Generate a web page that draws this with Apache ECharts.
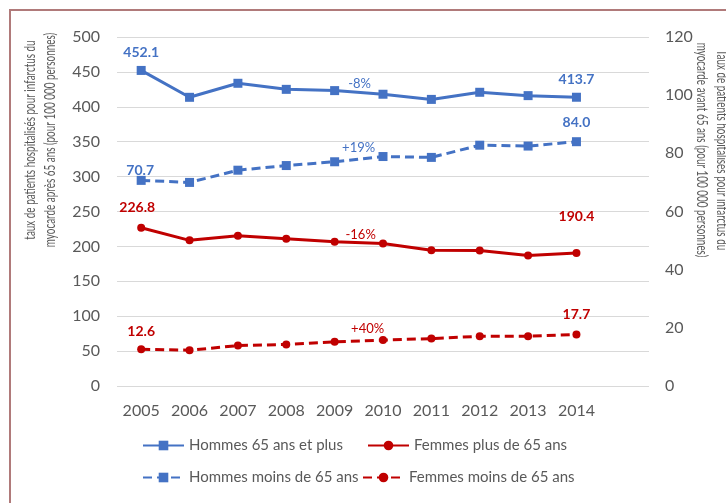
<!DOCTYPE html>
<html>
<head>
<meta charset="utf-8">
<script src="https://cdn.jsdelivr.net/npm/echarts@6/dist/echarts.min.js"></script>
<style>
  html, body { margin: 0; padding: 0; background: #fff; }
  #main { width: 726px; height: 503px; }
</style>
</head>
<body>
<div id="main"></div>
<script>
	// données
	var years = ['2005', '2006', '2007', '2008', '2009', '2010', '2011', '2012', '2013', '2014'];
	var hommesPlus65 = [452.1, 413.6, 433.7, 425.0, 423.2, 418.0, 410.6, 420.8, 416.0, 413.7];
	var femmesPlus65 = [226.8, 208.7, 215.3, 211.0, 206.5, 204.2, 194.6, 194.0, 187.0, 190.4];
	var hommesMoins65 = [70.7, 70.0, 74.2, 75.8, 77.1, 78.9, 78.6, 82.8, 82.5, 84.0];
	var femmesMoins65 = [12.6, 12.3, 13.9, 14.3, 15.2, 15.8, 16.3, 17.1, 17.1, 17.7];
	var evolutions = ['-8%', '-16%', '+19%', '+40%'];
	var leftTicks = [0, 500, 50];
	var rightTicks = [0, 120, 20];

	var BLUE = '#4472C4';
	var RED = '#C00000';
	var GREY = '#595959';
	var FONT = 'Lato';

	// étiquettes : première valeur, évolution (posée sur 2009), dernière valeur
	function buildData(values, evo, off) {
		return values.map(function (v, i) {
			var item = { value: v };
			if (i === 0 || i === values.length - 1 || i === 4) {
				var txt = (i === 4) ? evo : v.toFixed(1);
				var o = i === 0 ? off[0] : (i === 4 ? off[1] : off[2]);
				item.label = {
					show: true,
					position: 'inside',
					offset: o,
					formatter: txt,
					fontFamily: FONT,
					fontSize: i === 4 ? 13 : 14,
					fontWeight: i === 4 ? 'normal' : 'bold'
				};
			}
			return item;
		});
	}

	function makeSeries(name, values, axis, color, symbol, size, dashed, evo, off) {
		return {
			name: name,
			type: 'line',
			yAxisIndex: axis,
			data: buildData(values, evo, off),
			symbol: symbol,
			symbolSize: size,
			itemStyle: { color: color },
			lineStyle: { color: color, width: 3, type: dashed ? [9, 5] : 'solid' },
			label: { color: color },
			emphasis: { disabled: true },
			animation: false
		};
	}

	var chart = echarts.init(document.getElementById('main'));

	var names = ['Hommes 65 ans et plus', 'Femmes plus de 65 ans', 'Hommes moins de 65 ans', 'Femmes moins de 65 ans'];
	var legendPos = [[142, 438], [367, 438], [142, 470], [362, 470]];

	chart.setOption({
		backgroundColor: '#fff',
		grid: { left: 117, right: 77, top: 37, bottom: 117 },
		xAxis: {
			type: 'category',
			data: years.concat(['']),
			boundaryGap: true,
			axisLine: { show: false },
			axisTick: { show: false },
			axisLabel: { color: GREY, fontSize: 16, fontFamily: FONT, margin: 17 }
		},
		yAxis: [{
			type: 'value',
			min: leftTicks[0], max: leftTicks[1], interval: leftTicks[2],
			axisLine: { show: false },
			axisTick: { show: false },
			axisLabel: { color: GREY, fontSize: 16, fontFamily: FONT, margin: 17 },
			splitLine: { lineStyle: { color: '#d9d9d9', width: 1 } }
		}, {
			type: 'value',
			min: rightTicks[0], max: rightTicks[1], interval: rightTicks[2],
			axisLine: { show: false },
			axisTick: { show: false },
			axisLabel: { color: GREY, fontSize: 16, fontFamily: FONT, margin: 16 },
			splitLine: { show: false }
		}],
		legend: names.map(function (n, i) {
			return {
				data: [n],
				left: legendPos[i][0],
				top: legendPos[i][1],
				itemWidth: 41,
				itemHeight: 12,
				itemGap: 0,
				padding: 0,
				textStyle: { color: GREY, fontSize: 15, fontFamily: FONT }
			};
		}),
		series: [
			makeSeries(names[0], hommesPlus65, 0, BLUE, 'rect', 9, false, evolutions[0], [[0, -18], [25, -7], [0, -18]]),
			makeSeries(names[1], femmesPlus65, 0, RED, 'circle', 8, false, evolutions[1], [[-4, -20], [26, -7], [0, -37]]),
			makeSeries(names[2], hommesMoins65, 1, BLUE, 'rect', 9, true, evolutions[2], [[-1, -10], [24, -14], [0, -19]]),
			makeSeries(names[3], femmesMoins65, 1, RED, 'circle', 8, true, evolutions[3], [[0, -18], [33, -13], [0, -20]])
		],
		graphic: [{
			type: 'rect',
			shape: { x: 10, y: 10, width: 800, height: 600 },
			style: { fill: 'none', stroke: '#b07a7a', lineWidth: 2 },
			silent: true
		}, {
			type: 'text',
			x: 40, y: 140,
			rotation: Math.PI / 2,
			scaleX: 0.66,
			style: {
				text: 'taux de patients hospitalisés pour infarctus du\nmyocarde après 65 ans (pour 100 000 personnes)',
				fill: GREY, fontSize: 15, fontFamily: FONT,
				align: 'center', verticalAlign: 'middle', lineHeight: 20
			}
		}, {
			type: 'text',
			x: 712, y: 150,
			rotation: -Math.PI / 2,
			scaleX: 0.66,
			style: {
				text: 'Taux de patients hospitalisés pour infarctus du\nmyocarde avant 65 ans (pour 100 000 personnes)',
				fill: GREY, fontSize: 15, fontFamily: FONT,
				align: 'center', verticalAlign: 'middle', lineHeight: 20
			}
		}]
	});
</script>
</body>
</html>
